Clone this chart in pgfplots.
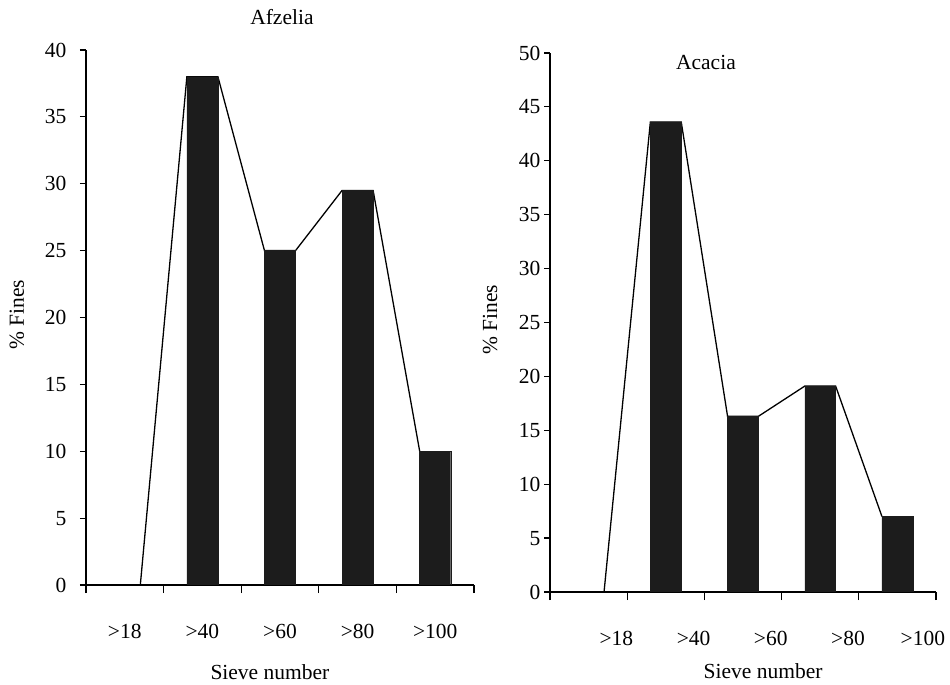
\documentclass[border=0pt]{standalone}
\usepackage{fontspec}
\setmainfont{Liberation Serif}
\usepackage{pgfplots}
\pgfplotsset{compat=1.18}
\definecolor{barfill}{HTML}{1C1C1C}

\pgfplotsset{
  sieve/.style={
    scale only axis,
    font=\fontsize{21.5bp}{25bp}\selectfont,
    axis x line*=bottom, axis y line*=left,
    axis line style={line width=1.4bp, black},
    tick align=outside,
    xmin=-0.5, xmax=4.5, ymin=0,
    xtick={0,...,4},
    xticklabels={{>18},{>40},{>60},{>80},{>100}},
    major x tick style={draw=none},
    minor xtick={-0.5,0.5,1.5,2.5,3.5,4.5},
    minor tick length=8bp,
    minor x tick style={line width=1.2bp, black},
    major tick length=6bp,
    ytick style={line width=1.2bp, black},
    /pgf/number format/assume math mode=true,
    ticklabel style={font=\fontsize{21.5bp}{25bp}\selectfont},
    xlabel={Sieve number},
    ylabel={\% Fines},
  },
  bars/.style={ybar, bar width=0.4, bar shift=0pt, fill=barfill, draw=barfill},
  poly/.style={black, line width=1.3bp, mark=none},
}

\begin{document}
\begin{tikzpicture}
  \path[use as bounding box] (0bp,0bp) rectangle (950bp,685bp);

  % Afzelia
  \begin{axis}[sieve,
    at={(86bp,100bp)}, anchor=south west,
    width=388bp, height=535bp,
    ymax=40, ytick={0,5,...,40},
    xticklabel style={yshift=-30bp},
    yticklabel style={xshift=-10bp},
    title={Afzelia},
    title style={at={(axis description cs:0.505,1.05)}, anchor=center},
    xlabel style={at={(axis description cs:0.474,-0.162)}, anchor=center},
    ylabel style={at={(axis description cs:-0.178,0.505)}, anchor=center},
  ]
    \addplot[poly] coordinates {
      (0.2,0) (0.8,38) (1.2,38) (1.8,25) (2.2,25) (2.8,29.5) (3.2,29.5) (3.8,10)
    };
    \addplot[bars] coordinates {(1,38) (2,25) (3,29.5) (4,10)};
  \end{axis}

  % Acacia
  \begin{axis}[sieve,
    at={(550bp,93bp)}, anchor=south west,
    width=386bp, height=539bp,
    ymax=50, ytick={0,5,...,50},
    xtick={0.36,1.36,2.36,3.36,4.33},
    xticklabel style={yshift=-30bp},
    title={Acacia},
    title style={at={(axis description cs:0.404,0.972)}, anchor=center},
    xlabel style={at={(axis description cs:0.552,-0.146)}, anchor=center},
    ylabel style={at={(axis description cs:-0.155,0.505)}, anchor=center},
  ]
    \addplot[poly] coordinates {
      (0.2,0) (0.8,43.6) (1.2,43.6) (1.8,16.3) (2.2,16.3) (2.8,19.1) (3.2,19.1) (3.8,7.0)
    };
    \addplot[bars] coordinates {(1,43.6) (2,16.3) (3,19.1) (4,7.0)};
  \end{axis}
\end{tikzpicture}
\end{document}
